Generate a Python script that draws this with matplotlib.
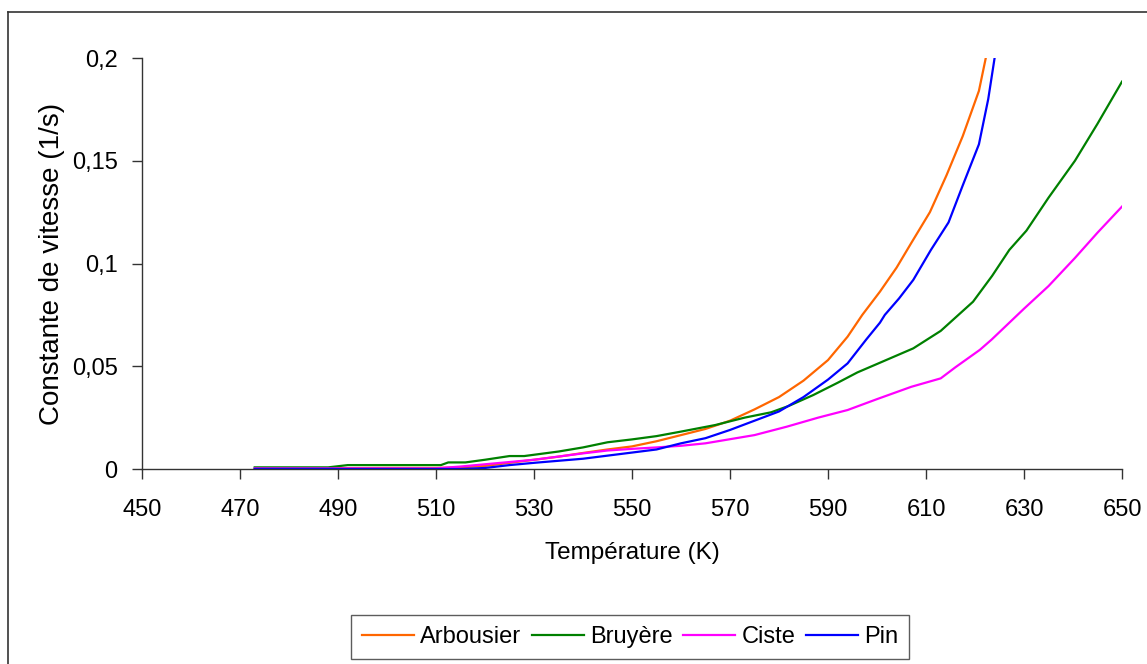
import matplotlib
matplotlib.use("Agg")
import matplotlib.pyplot as plt
from matplotlib.lines import Line2D
from matplotlib.ticker import FuncFormatter

plt.rcParams['font.family'] = ['Liberation Sans', 'DejaVu Sans']

# Rate constants k (1/s) versus temperature (K) for each species
t_arbousier = [473, 480, 490, 500, 510, 515, 520, 525, 530, 535, 540, 545, 550, 555,
               560, 565, 570, 575, 580, 585, 590, 594, 597, 600.6, 604, 607, 610.8,
               614.2, 617.5, 620.8, 622.2, 623.5]
k_arbousier = [0.0, 0.0, 0.0004, 0.0005, 0.0005, 0.0008, 0.0015, 0.003, 0.0045, 0.006,
               0.0078, 0.0095, 0.011, 0.0135, 0.0165, 0.0195, 0.0235, 0.029, 0.035,
               0.043, 0.053, 0.0644, 0.075, 0.0863, 0.098, 0.11, 0.125, 0.143, 0.162,
               0.184, 0.2, 0.225]

t_bruyere = [473, 488, 492, 511, 512.5, 516, 520, 525, 528, 535, 540, 545, 550, 555,
             560, 567, 573, 578.4, 582, 587, 592, 596, 600, 607.4, 613, 619.6, 623.5,
             627, 630.5, 635, 640.4, 645, 650]
k_bruyere = [0.0008, 0.0008, 0.0019, 0.0019, 0.0032, 0.0032, 0.0045, 0.0063, 0.0063,
             0.0085, 0.0105, 0.013, 0.0144, 0.016, 0.0182, 0.0214, 0.025, 0.0276,
             0.0307, 0.036, 0.042, 0.047, 0.0511, 0.0587, 0.0672, 0.0814, 0.094,
             0.1066, 0.116, 0.132, 0.150, 0.168, 0.1885]

t_ciste = [473, 510, 515, 525, 530, 540, 545, 550, 555, 560, 565, 570, 575, 581.6,
           588, 594, 600, 607, 613, 616, 621, 623.4, 630, 635, 640.4, 645, 650]
k_ciste = [0.0003, 0.0003, 0.0012, 0.0034, 0.0045, 0.0076, 0.009, 0.0098, 0.0105,
           0.0113, 0.0125, 0.0145, 0.0165, 0.0206, 0.025, 0.0287, 0.034, 0.04,
           0.0441, 0.0495, 0.058, 0.063, 0.078, 0.089, 0.1027, 0.115, 0.1277]

t_pin = [473, 515, 520, 525, 530, 535, 540, 545, 550, 555, 560, 565, 570, 575, 580,
         585, 590, 594, 597.8, 600.6, 601.6, 604.5, 607.4, 611, 614.6, 617.5, 620.8,
         622.7, 624, 625]
k_pin = [0.0, 0.0, 0.0005, 0.0019, 0.003, 0.004, 0.005, 0.0065, 0.008, 0.0095, 0.0125,
         0.015, 0.019, 0.0235, 0.028, 0.035, 0.0435, 0.0514, 0.063, 0.0712, 0.075,
         0.083, 0.092, 0.1066, 0.12, 0.138, 0.158, 0.18, 0.2, 0.22]

series = [
    ("Arbousier", t_arbousier, k_arbousier, "#FF6600"),
    ("Bruyère", t_bruyere, k_bruyere, "#008000"),
    ("Ciste", t_ciste, k_ciste, "#FF00FF"),
    ("Pin", t_pin, k_pin, "#0000FF"),
]

x_ticks = list(range(450, 651, 20))
y_ticks = [0, 0.05, 0.1, 0.15, 0.2]

fig = plt.figure(figsize=(11.47, 6.64), dpi=100)
ax = fig.add_axes([142 / 1147, 1 - 469 / 664, (1122 - 142) / 1147, (469 - 58) / 664])

for name, t, k, col in series:
    ax.plot(t, k, color=col, lw=1.6, label=name, solid_joinstyle='round')

ax.set_xlim(450, 650)
ax.set_ylim(0, 0.2)
ax.set_xticks(x_ticks)
ax.set_yticks(y_ticks)


def comma_fmt(v, pos):
    s = ("%.2f" % v).rstrip("0").rstrip(".")
    return s.replace(".", ",")


ax.yaxis.set_major_formatter(FuncFormatter(comma_fmt))
ax.spines['top'].set_visible(False)
ax.spines['right'].set_visible(False)
for sp in ('left', 'bottom'):
    ax.spines[sp].set_linewidth(1.0)
    ax.spines[sp].set_color('#333333')
ax.tick_params(axis='both', direction='out', length=7.5, width=1.0, color='#333333',
               labelsize=17)
ax.tick_params(axis='x', pad=14)
ax.tick_params(axis='y', pad=10)

ax.set_xlabel("Température (K)", fontsize=17.5, labelpad=15)
ax.set_ylabel("Constante de vitesse (1/s)", fontsize=20, labelpad=5)

leg = ax.legend(loc='center', bbox_to_anchor=(0.498, -0.409), ncol=4, frameon=True,
                fancybox=False, fontsize=17, handlelength=2.2, handletextpad=0.25,
                columnspacing=0.47, borderpad=0.45, borderaxespad=0,
                edgecolor='#333333')
leg.get_frame().set_linewidth(1.0)

# Outer frame around the chart area
fig.add_artist(Line2D([8 / 1147, 8 / 1147], [0, 1 - 12 / 664], transform=fig.transFigure,
                      color='#333333', lw=1.2))
fig.add_artist(Line2D([8 / 1147, 1], [1 - 12 / 664, 1 - 12 / 664], transform=fig.transFigure,
                      color='#333333', lw=1.2))

fig.savefig("out.png", dpi=100)
